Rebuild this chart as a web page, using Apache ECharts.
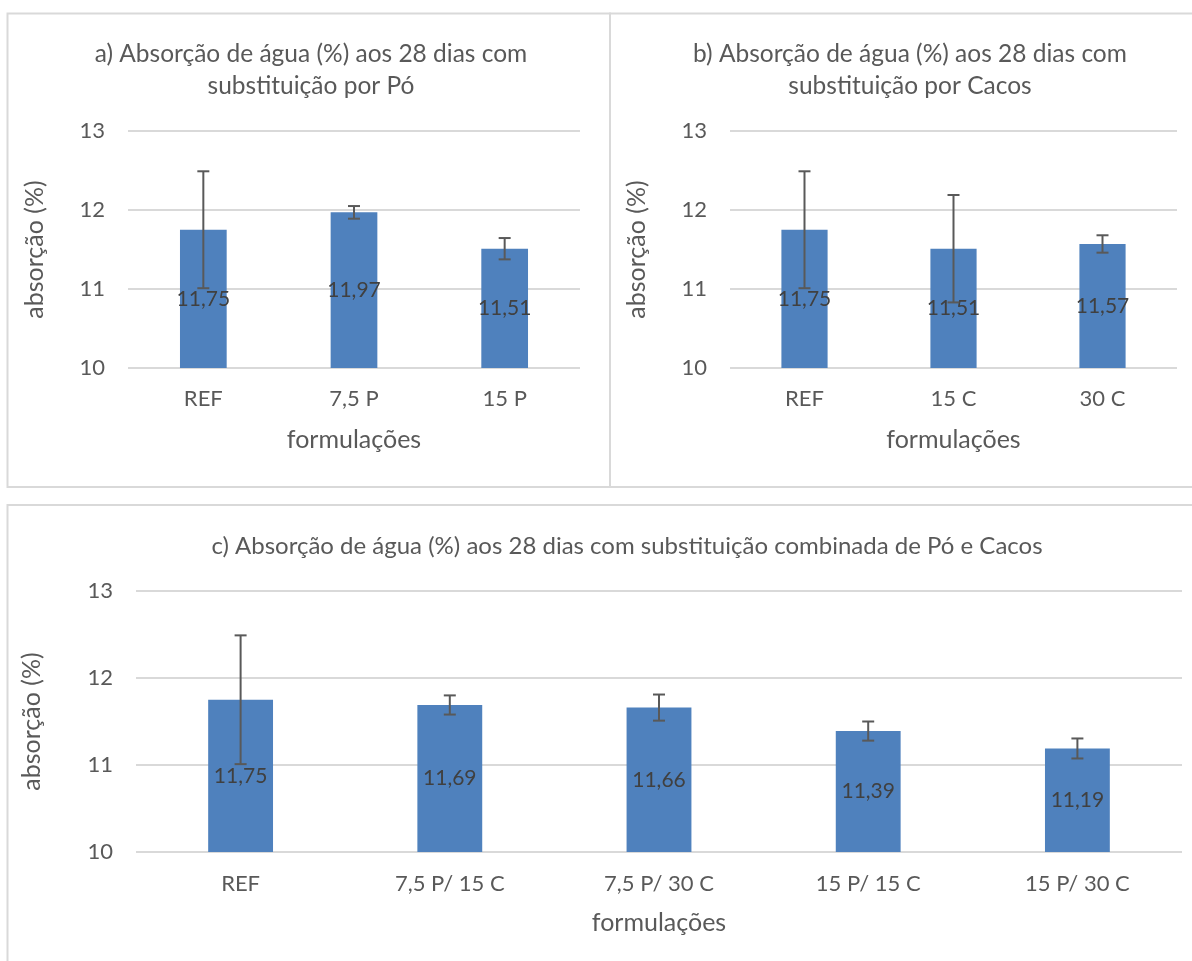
<!DOCTYPE html>
<html>
<head>
<meta charset="utf-8">
<script src="https://cdn.jsdelivr.net/npm/echarts@6/dist/echarts.min.js"></script>
<style>
html,body{margin:0;padding:0;background:#fff;}
#chart{width:1192px;height:961px;}
</style>
</head>
<body>
<div id="chart"></div>
<script>
// ---- data ----
const catsA = ['REF', '7,5 P', '15 P'];
const valsA = [11.75, 11.97, 11.51];
const errA  = [0.74, 0.08, 0.135];

const catsB = ['REF', '15 C', '30 C'];
const valsB = [11.75, 11.51, 11.57];
const errB  = [0.74, 0.68, 0.11];

const catsC = ['REF', '7,5 P/ 15 C', '7,5 P/ 30 C', '15 P/ 15 C', '15 P/ 30 C'];
const valsC = [11.75, 11.69, 11.66, 11.39, 11.19];
const errC  = [0.74, 0.11, 0.15, 0.11, 0.115];

const titleA = 'a) Absorção de água (%) aos 28 dias com\nsubstituição por Pó';
const titleB = 'b) Absorção de água (%) aos 28 dias com\nsubstituição por Cacos';
const titleC = 'c) Absorção de água (%) aos 28 dias com substituição combinada de Pó e Cacos';
const yName = 'absorção (%)';
const xName = 'formulações';
const yMin = 10, yMax = 13, yStep = 1;

// ---- style ----
const FONT = 'Lato';
const TXT = '#595959';
const BAR = '#4F81BD';
const GRIDC = '#D9D9D9';

function errData(vals, errs) {
  return vals.map((v, i) => [i, v - errs[i], v + errs[i]]);
}

function errSeries(idx, vals, errs) {
  return {
    type: 'custom',
    xAxisIndex: idx, yAxisIndex: idx,
    z: 5,
    silent: true,
    data: errData(vals, errs),
    renderItem: function (params, api) {
      const lo = api.coord([api.value(0), api.value(1)]);
      const hi = api.coord([api.value(0), api.value(2)]);
      const hw = 6;
      const st = { stroke: '#595959', lineWidth: 2 };
      return {
        type: 'group',
        children: [
          { type: 'line', shape: { x1: hi[0], y1: hi[1], x2: lo[0], y2: lo[1] }, style: st },
          { type: 'line', shape: { x1: hi[0] - hw, y1: hi[1], x2: hi[0] + hw, y2: hi[1] }, style: st },
          { type: 'line', shape: { x1: lo[0] - hw, y1: lo[1], x2: lo[0] + hw, y2: lo[1] }, style: st }
        ]
      };
    }
  };
}

function barSeries(idx, vals, fs) {
  return {
    type: 'bar',
    xAxisIndex: idx, yAxisIndex: idx,
    data: vals,
    barWidth: '31%',
    itemStyle: { color: BAR },
    label: {
      show: true, position: 'inside',
      color: '#404040', fontFamily: FONT, fontSize: fs,
      formatter: p => String(p.value).replace('.', ',')
    },
    z: 2
  };
}

function xAx(idx, cats, gap, labelMargin) {
  return {
    type: 'category', gridIndex: idx, data: cats,
    axisLine: { show: false }, axisTick: { show: false },
    axisLabel: { color: TXT, fontFamily: FONT, fontSize: 22, margin: labelMargin },
    name: xName, nameLocation: 'middle', nameGap: gap,
    nameTextStyle: { color: TXT, fontFamily: FONT, fontSize: 25 }
  };
}

function yAx(idx, gap) {
  return {
    type: 'value', gridIndex: idx, min: yMin, max: yMax, interval: yStep,
    axisLine: { show: false }, axisTick: { show: false },
    axisLabel: { color: TXT, fontFamily: FONT, fontSize: 22, margin: 23 },
    splitLine: { lineStyle: { color: GRIDC, width: 2 } },
    name: yName, nameLocation: 'middle', nameGap: gap, nameRotate: 90,
    nameTextStyle: { color: TXT, fontFamily: FONT, fontSize: 25 }
  };
}

const chart = echarts.init(document.getElementById('chart'), null, { renderer: 'canvas' });
chart.setOption({
  backgroundColor: '#fff',
  animation: false,
  title: [
    { text: titleA, left: 306, top: 33, textAlign: 'center',
      textStyle: { color: TXT, fontFamily: FONT, fontSize: 24.5, fontWeight: 'normal', lineHeight: 32 } },
    { text: titleB, left: 905, top: 33, textAlign: 'center',
      textStyle: { color: TXT, fontFamily: FONT, fontSize: 24.5, fontWeight: 'normal', lineHeight: 32 } },
    { text: titleC, left: 622, top: 529, textAlign: 'center',
      textStyle: { color: TXT, fontFamily: FONT, fontSize: 24, fontWeight: 'normal' } }
  ],
  graphic: [
    { type: 'rect', shape: { x: 7.5, y: 13.5, width: 602.5, height: 473.5 }, style: { fill: 'none', stroke: GRIDC, lineWidth: 2 }, z: -1 },
    { type: 'rect', shape: { x: 610, y: 13.5, width: 600, height: 473.5 }, style: { fill: 'none', stroke: GRIDC, lineWidth: 2 }, z: -1 },
    { type: 'rect', shape: { x: 7.5, y: 505, width: 1200, height: 500 }, style: { fill: 'none', stroke: GRIDC, lineWidth: 2 }, z: -1 }
  ],
  grid: [
    { left: 128, top: 131, width: 452, height: 237 },
    { left: 730, top: 131, width: 447, height: 237 },
    { left: 136, top: 591, width: 1046, height: 261 }
  ],
  xAxis: [xAx(0, catsA, 59, 20), xAx(1, catsB, 59, 20), xAx(2, catsC, 58, 21)],
  yAxis: [yAx(0, 80.5), yAx(1, 80.5), yAx(2, 91.5)],
  series: [
    barSeries(0, valsA, 21), errSeries(0, valsA, errA),
    barSeries(1, valsB, 21), errSeries(1, valsB, errB),
    barSeries(2, valsC, 21), errSeries(2, valsC, errC)
  ]
});
</script>
</body>
</html>
